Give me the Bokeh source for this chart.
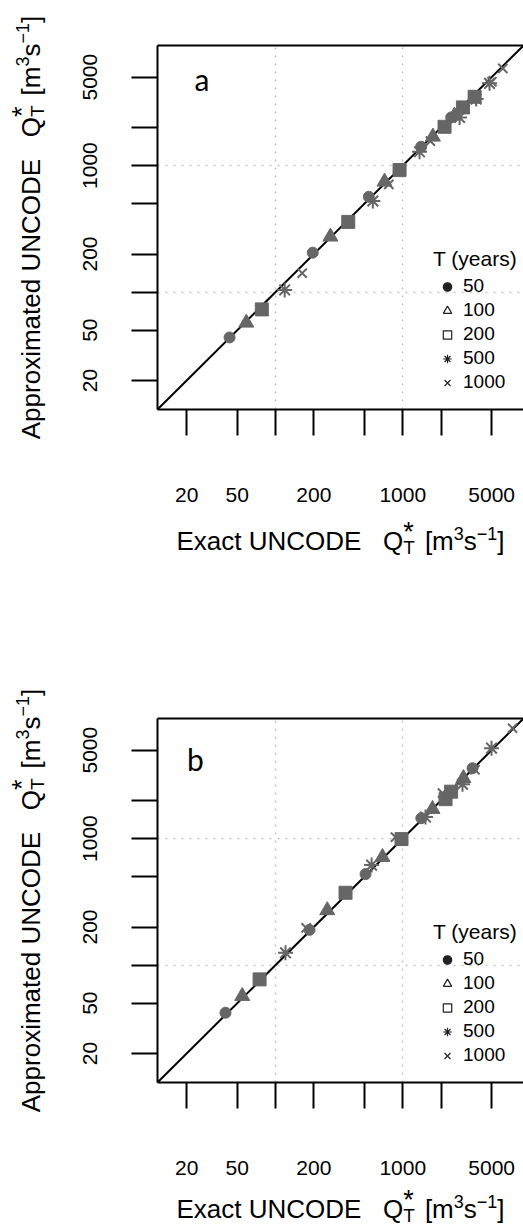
import math
from bokeh.plotting import figure
from bokeh.models import (Range1d, FixedTicker, LogAxis, Label, Legend, LegendItem,
                          BasicTickFormatter)
from bokeh.layouts import column, row
from bokeh.embed import file_html
from bokeh.resources import INLINE

# ---------------- data ----------------
ticks_labeled = [20, 50, 200, 1000, 5000]
ticks_unlabeled = [100, 500, 2000]
grid_ticks = [100, 1000]
axis_range = [11.8, 8900]
diag = [1, 100000]
return_periods = ["50", "100", "200", "500", "1000"]
legend_key = [float("nan")]

# panel a
a_T50_x = [43.5, 196, 541, 1396, 2404]
a_T50_y = [43.8, 205, 567, 1409, 2404]
a_T100_x = [58.9, 270, 719, 1726, 2550]
a_T100_y = [57.2, 274, 745, 1690, 2480]
a_T200_x = [78, 373, 944, 2131, 2973, 3673]
a_T200_y = [73, 359, 921, 2027, 2884, 3500]
a_T500_x = [118, 582, 1355, 2797, 3776, 4809]
a_T500_y = [104, 525, 1285, 2404, 3359, 4467]
a_T1000_x = [162, 778, 1650, 3100, 5023, 6124]
a_T1000_y = [141, 710, 1560, 2800, 4600, 5865]

# panel b
b_T50_x = [40.4, 185, 510, 1400, 3540]
b_T50_y = [42, 190, 524, 1450, 3600]
b_T100_x = [54.7, 255, 693, 1714, 3000]
b_T100_y = [56.9, 271, 714, 1710, 3000]
b_T200_x = [74.9, 355, 978, 2170, 2400]
b_T200_y = [77.1, 373, 991, 2050, 2350]
b_T500_x = [119.8, 569, 1510, 2950, 4990]
b_T500_y = [125, 617, 1480, 2690, 5190]
b_T1000_x = [174, 877, 2054, 3700, 7300]
b_T1000_y = [197, 1028, 2290, 3500, 7460]

panel_a = [(a_T50_x, a_T50_y), (a_T100_x, a_T100_y), (a_T200_x, a_T200_y),
           (a_T500_x, a_T500_y), (a_T1000_x, a_T1000_y)]
panel_b = [(b_T50_x, b_T50_y), (b_T100_x, b_T100_y), (b_T200_x, b_T200_y),
           (b_T500_x, b_T500_y), (b_T1000_x, b_T1000_y)]

# ---------------- styling ----------------
FONT = "Liberation Sans"
GRAY = "#666666"
LEG = "#222222"
markers = ["circle", "triangle", "square", "asterisk", "x"]
marker_sizes = [11, 15, 13, 15, 13]
leg_sizes = [6, 16, 10, 17, 14]
leg_filled = [True, False, False, False, False]
MID = 0.3465  # (ascent - descent) / 2 of the text box, in em

W = {' ': 278, 'A': 667, 'p': 556, 'r': 333, 'o': 556, 'x': 500, 'i': 222, 'm': 833,
     'a': 556, 't': 278, 'e': 556, 'd': 556, 'U': 722, 'N': 722, 'C': 722, 'O': 778,
     'D': 722, 'E': 667, 'Q': 778, 'T': 611, '[': 278, ']': 278, 's': 500, '3': 556,
     '1': 556, '\u2212': 584, '*': 389, 'c': 500}


def tw(s, size):
    return sum(W.get(c, 556) for c in s) * size / 1000.0


def rich_title(p, first, center, base, vertical):
    groups = [
        (0, [(first, 26, 0)]),
        (0, [("   ", 26, 0)]),
        (0, [("Q", 26, 0)]),
        (0, [("*", 27, 9), ("T", 19, -4)]),
        (10, [("[m", 26, 0)]),
        (0, [("3", 18, 11)]),
        (0, [("s", 26, 0)]),
        (0, [("\u22121", 18, 11)]),
        (0, [("]", 26, 0)]),
    ]
    total = sum(g + max(tw(t, s) for t, s, _ in items) for g, items in groups)
    pos = center - total / 2.0
    for g, items in groups:
        pos += g
        for t, s, sh in items:
            if t.strip() == "":
                continue
            if vertical:
                lab = Label(x=base - sh - MID * s, y=pos, x_units="screen",
                            y_units="screen", text=t, angle=math.pi / 2,
                            text_align="left", text_baseline="middle",
                            text_font_size=f"{s}px", text_font=FONT,
                            text_color="black")
            else:
                lab = Label(x=pos, y=base + sh + MID * s, x_units="screen",
                            y_units="screen", text=t, text_align="left",
                            text_baseline="middle", text_font_size=f"{s}px",
                            text_font=FONT, text_color="black")
            p.add_layout(lab)
        pos += max(tw(t, s) for t, s, _ in items)


def title_fig(w, h):
    t = figure(width=w, height=h, x_range=Range1d(0, w), y_range=Range1d(0, h),
               x_axis_location=None, y_axis_location=None,
               min_border=0, min_border_left=0, min_border_right=0,
               min_border_top=0, min_border_bottom=0,
               output_backend="svg", toolbar_location=None)
    t.outline_line_color = None
    t.xgrid.visible = False
    t.ygrid.visible = False
    return t


FW, FH = 366, 364
YT_W = 60
LEFT = 157 - YT_W


def make_panel(series, letter, letter_xy, top, bottom):
    p = figure(x_axis_type="log", y_axis_type="log",
               x_range=Range1d(*axis_range), y_range=Range1d(*axis_range),
               frame_width=FW, frame_height=FH,
               min_border_left=LEFT, min_border_right=0,
               min_border_top=top, min_border_bottom=bottom,
               output_backend="svg", toolbar_location=None)
    p.outline_line_color = None

    for ax in (p.xaxis[0], p.yaxis[0]):
        ax.ticker = FixedTicker(ticks=ticks_labeled, minor_ticks=ticks_unlabeled)
        ax.formatter = BasicTickFormatter()
        ax.axis_line_width = 2
        ax.axis_line_color = "black"
        ax.major_tick_in = 0
        ax.major_tick_out = 26
        ax.minor_tick_in = 0
        ax.minor_tick_out = 26
        ax.major_tick_line_width = 2
        ax.minor_tick_line_width = 2
        ax.minor_tick_line_color = "black"
        ax.major_label_text_font = FONT
        ax.major_label_text_font_size = "21px"
        ax.major_label_text_color = "black"
    p.xaxis[0].major_label_standoff = 52
    p.yaxis[0].major_label_standoff = 34
    p.yaxis[0].major_label_orientation = "vertical"

    top_axis = LogAxis(ticker=FixedTicker(ticks=[]), axis_line_width=2,
                       major_label_text_font_size="0px", major_tick_out=0,
                       minor_tick_out=0)
    p.add_layout(top_axis, "above")

    for g in (p.xgrid[0], p.ygrid[0]):
        g.ticker = FixedTicker(ticks=grid_ticks)
        g.grid_line_color = "#c4c4c4"
        g.grid_line_dash = "2 6"
        g.grid_line_width = 1.5

    p.line(diag, diag, line_color="black", line_width=2)

    for (xs, ys), m, sz in zip(series, markers, marker_sizes):
        lw = 2 if m in ("asterisk", "x") else 1
        p.scatter(xs, ys, marker=m, size=sz, fill_color=GRAY, line_color=GRAY,
                  line_width=lw)

    items = []
    for lab, m, sz, filled in zip(return_periods, markers, leg_sizes, leg_filled):
        r = p.scatter(x=legend_key, y=legend_key, marker=m, size=sz,
                      fill_color=LEG if filled else None, line_color=LEG,
                      line_width=1.2)
        items.append(LegendItem(label=lab, renderers=[r]))
    legend = Legend(items=items, location=(276, 16), title="T (years)",
                    title_text_font=FONT, title_text_font_size="21px",
                    title_text_font_style="normal", title_text_color="black",
                    label_text_font=FONT, label_text_font_size="19px",
                    label_text_color="black",
                    glyph_width=28, glyph_height=21, label_height=21,
                    label_standoff=2, spacing=2, padding=0, margin=0,
                    title_standoff=4, border_line_color=None,
                    background_fill_alpha=0)
    p.add_layout(legend)

    p.add_layout(Label(x=letter_xy[0], y=letter_xy[1], x_units="screen",
                       y_units="screen", text=letter, text_align="center",
                       text_baseline="alphabetic", text_font="Lato",
                       text_font_size="30px", text_color="black"))
    return p


BOTTOM_A = 106
BOTTOM_B = 102
pa = make_panel(panel_a, "a", (44.5, 331), 45, BOTTOM_A)
pb = make_panel(panel_b, "b", (38, 324), 46, BOTTOM_B)
HA = 45 + FH + BOTTOM_A
HB = 46 + FH + BOTTOM_B

ya = title_fig(YT_W, HA)
rich_title(ya, "Approximated UNCODE", HA - (45 + FH / 2.0), 39.5, vertical=True)
yb = title_fig(YT_W, HB)
rich_title(yb, "Approximated UNCODE", HB - (46 + FH / 2.0), 39.5, vertical=True)

XA_H = 672 - HA
XB_H = 1227 - 672 - HB
xa = title_fig(523, XA_H)
rich_title(xa, "Exact UNCODE", 157 + FW / 2.0, XA_H - 35, vertical=False)
xb = title_fig(523, XB_H)
rich_title(xb, "Exact UNCODE", 157 + FW / 2.0, 9, vertical=False)

layout = column(row(column(ya, spacing=0), pa, spacing=0), xa,
                row(column(yb, spacing=0), pb, spacing=0), xb, spacing=0)
open("out.html", "w").write(file_html(layout, INLINE))
